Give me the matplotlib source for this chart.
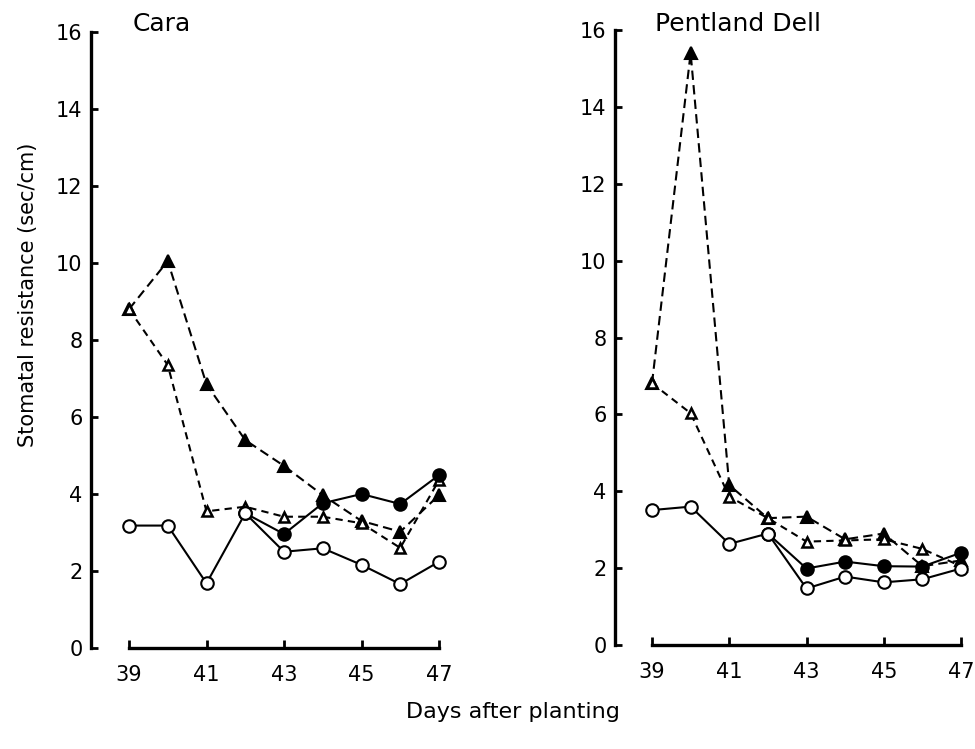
import numpy as np
import matplotlib
matplotlib.use("Agg")
import matplotlib.pyplot as plt

days = [39, 40, 41, 42, 43, 44, 45, 46, 47]
xticks = [39, 41, 43, 45, 47]
yticks = [0, 2, 4, 6, 8, 10, 12, 14, 16]
nan = np.nan

# Cara
cara_open_circle = [3.18, 3.18, 1.68, 3.5, 2.5, 2.59, 2.16, 1.66, 2.24]
cara_filled_circle = [nan, nan, nan, 3.5, 2.96, 3.76, 4.0, 3.74, 4.49]
cara_filled_tri = [8.8, 10.05, 6.85, 5.4, 4.73, 3.97, 3.3, 3.02, 3.97]
cara_open_tri = [8.8, 7.35, 3.55, 3.67, 3.41, 3.41, 3.24, 2.6, 4.36]

# Pentland Dell
pd_open_circle = [3.51, 3.6, 2.63, 2.9, 1.47, 1.78, 1.63, 1.71, 1.99]
pd_filled_circle = [nan, nan, nan, 2.9, 1.99, 2.17, 2.05, 2.04, 2.4]
pd_filled_tri = [6.81, 15.4, 4.16, 3.3, 3.34, 2.75, 2.9, 2.05, 2.2]
pd_open_tri = [6.81, 6.03, 3.86, 3.3, 2.69, 2.72, 2.75, 2.5, 2.05]

titles = ["Cara", "Pentland Dell"]
panels = [
    (cara_open_circle, cara_filled_circle, cara_filled_tri, cara_open_tri),
    (pd_open_circle, pd_filled_circle, pd_filled_tri, pd_open_tri),
]

W, H = 975, 749
fig = plt.figure(figsize=(W / 100, H / 100), dpi=100)

# pixel geometry per panel: (spine_x, x39, x47, y0, y16, title_x)
geom = [(91, 129, 439, 648, 32, 133), (615, 652, 961, 645, 30, 655)]

lw_data = 1.5
for title, (oc, fc, ft, ot), (sx, x39, x47, y0, y16, tx) in zip(titles, panels, geom):
    ppd = (x47 - x39) / 8.0
    ppu = (y0 - y16) / 16.0
    xl = 39 - (x39 - sx) / ppd
    xr = 47.35
    yb = 0.0
    yt = 16.5
    ax = fig.add_axes([sx / W, (H - y0) / H, (xr - xl) * ppd / W, (yt - yb) * ppu / H])
    ax.set_xlim(xl, xr)
    ax.set_ylim(yb, yt)

    ax.plot(days, ft, color="black", lw=lw_data, ls=(0, (4.5, 2.5)), marker="^",
            ms=8, mfc="black", mec="black", mew=1.5, zorder=3)
    ax.plot(days, ot, color="black", lw=lw_data, ls=(0, (3.5, 2.5)), marker="^",
            ms=7.5, mfc="white", mec="black", mew=1.8, zorder=4)
    ax.plot(days, fc, color="black", lw=lw_data, ls="-", marker="o",
            ms=9, mfc="black", mec="black", mew=1.5, zorder=5)
    ax.plot(days, oc, color="black", lw=lw_data, ls="-", marker="o",
            ms=9, mfc="white", mec="black", mew=1.5, zorder=6)

    for s in ["top", "right"]:
        ax.spines[s].set_visible(False)
    ax.spines["left"].set_bounds(0, 16)
    ax.spines["bottom"].set_bounds(39, 47)
    ax.spines["left"].set_linewidth(2.4)
    ax.spines["bottom"].set_linewidth(2.4)
    ax.set_xticks(xticks)
    ax.set_xticklabels([str(t) for t in xticks])
    ax.set_yticks(yticks)
    ax.set_yticklabels([str(t) for t in yticks])
    ax.tick_params(axis="x", direction="in", length=6, width=2, pad=12, labelsize=15)
    ax.tick_params(axis="y", direction="in", length=5, width=2, pad=6, labelsize=15)
    ax.patch.set_alpha(0)
    fig.text(tx / W, 1 - 24 / H, title, fontsize=18, ha="left", va="center")

fig.text(28 / W, 1 - 295 / H, "Stomatal resistance (sec/cm)", rotation=90,
         fontsize=15, ha="center", va="center")
fig.text(513 / W, 1 - 712 / H, "Days after planting", fontsize=16,
         ha="center", va="center")

fig.savefig("out.png", dpi=100, facecolor="white")
